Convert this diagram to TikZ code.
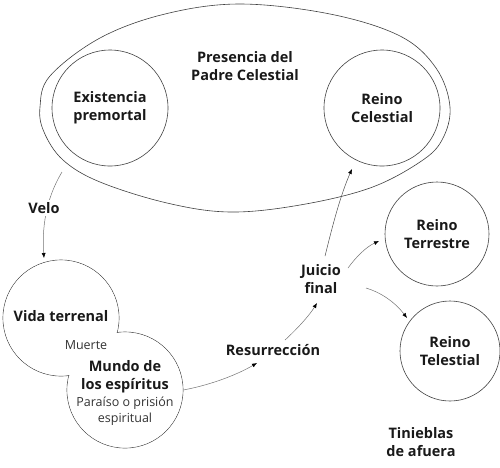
\documentclass[tikz,border=0pt]{standalone}
\usepackage{fontspec}
\setmainfont{Open Sans}
\usetikzlibrary{arrows.meta}
\begin{document}
\begin{tikzpicture}[x=1pt,y=-1pt,
  circ/.style={circle, draw=black!75, line width=0.6pt, minimum size=116pt, inner sep=0pt},
  bt/.style={font=\bfseries\fontsize{14.5}{18}\selectfont, align=center, text=black!90},
  lt/.style={font=\fontsize{12.5}{16}\selectfont, align=center, text=black!80},
  arr/.style={draw=black!55, line width=0.5pt, -{Latex[length=5pt,width=4pt,color=black]}}]
\useasboundingbox (0,0) rectangle (500,467);
% outer presence shape
\draw[draw=black!75, line width=0.6pt] plot[smooth cycle, tension=0.6] coordinates {
 (240,4) (330,14) (400,36) (436,68) (450,107) (442,140) (420,162) (370,188) (300,205)
 (230,212) (167,203) (100,182) (63,160) (44,132) (40,107) (50,76) (100,38) (165,14)};
\node[circ, bt] (pre) at (110,108) {Existencia\\premortal};
\node[circ, bt] (cel) at (382,108) {Reino\\Celestial};
\node[bt] (pres) at (245,66) {Presencia del\\Padre Celestial};
\node[circ, bt, minimum size=104pt] (ter) at (437,234) {Reino\\Terrestre};
\node[circ, bt, minimum size=100pt] (tel) at (450,351) {Reino\\Telestial};
% earth life and spirit world
\node[circ] (vida) at (61,318) {};
\node[circ] (mundo) at (125,390) {};
\fill[white] (vida.center) circle (57.6pt);
\fill[white] (mundo.center) circle (57.6pt);
\node[bt] (vidat) at (61,316) {Vida terrenal};
\node[lt] (muerte) at (86,345) {Muerte};
\node[bt] (mundot) at (125,377) {Mundo de\\los espíritus};
\node[lt] (parai) at (125,411) {Paraíso o prisión\\espiritual};
% labels
\node[bt] (res) at (273,350) {Resurrección};
\node[bt] (juicio) at (321,279) {Juicio\\final};
\node[bt] (tin) at (421,442) {Tinieblas\\de afuera};
% connector ends
\coordinate (v0) at (62,172);
\coordinate (v1) at (44,258);
\coordinate (r1) at (257,363);
\coordinate (r2) at (285,340);
\coordinate (j1) at (317,303);
\coordinate (j2) at (325,256);
\coordinate (c1) at (352,169);
\coordinate (j3) at (348,268);
\coordinate (t1) at (379,241);
\coordinate (j4) at (366,288);
\coordinate (t2) at (407,318);
% arrows
\draw[arr] (v0) .. controls (45,200) and (42,230) .. (v1);
\node[bt, fill=white, inner sep=2pt] (velo) at (44,208) {Velo};
\draw[arr] (mundo.east) .. controls (215,384) and (240,373) .. (r1);
\draw[arr] (r2) .. controls (296,330) and (309,316) .. (j1);
\draw[arr, draw=black!70] (j2) .. controls (332,228) and (340,196) .. (c1);
\draw[arr] (j3) .. controls (356,257) and (366,247) .. (t1);
\draw[arr] (j4) .. controls (380,292) and (395,302) .. (t2);
\end{tikzpicture}
\end{document}
